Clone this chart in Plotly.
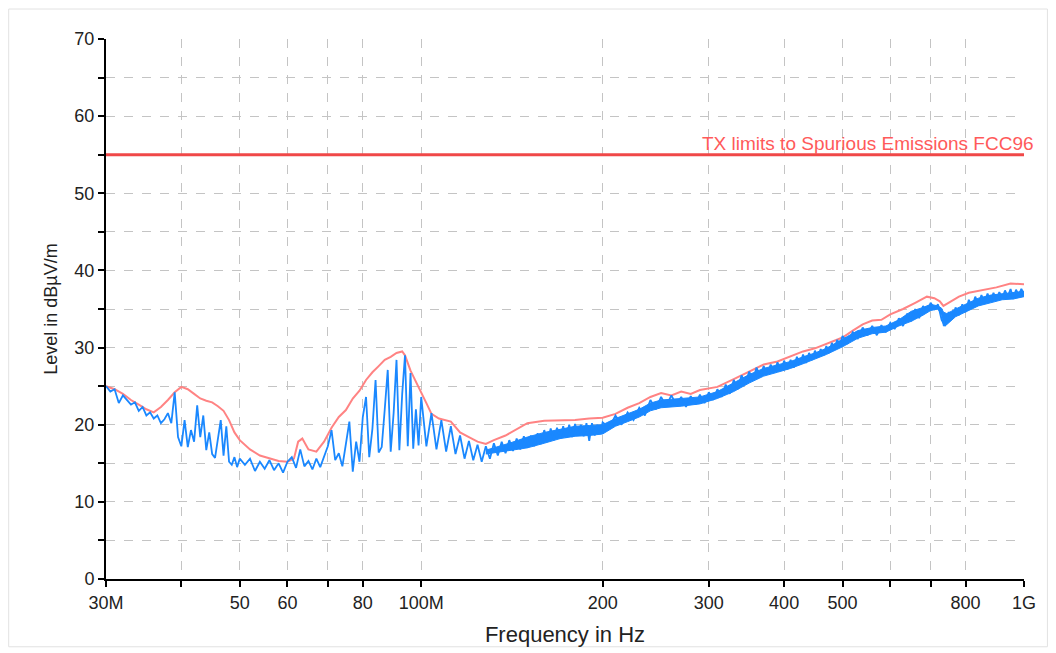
import plotly.graph_objects as go

# limit line (FCC)
limit_mhz = [30, 1000]
limit_db = [55, 55]
limit_label = "TX limits to Spurious Emissions FCC96"

# max-hold trace (pink)
peak_mhz = [30, 31, 32, 33, 34, 35, 36, 37, 38, 39, 40, 41, 42, 43, 44, 45, 46, 47, 48, 49,
            50, 52, 54, 56, 58, 60, 61.5, 62.5, 63.5, 65, 67, 69, 71, 73, 75, 77, 79, 81, 83, 85,
            87, 89, 91, 93, 94, 96, 98, 100, 102, 104, 107, 112, 116, 120, 124, 128, 132, 138,
            145, 150, 160, 170, 180, 190, 200, 210, 220, 230, 240, 250, 260, 270, 280, 290, 310,
            330, 350, 370, 390, 410, 430, 450, 480, 500, 520, 540, 560, 580, 600, 630, 660, 690,
            710, 725, 735, 750, 780, 810, 850, 900, 950, 1000]
peak_db = [25.0, 24.6, 24.0, 23.2, 22.6, 22.0, 21.6, 22.3, 23.2, 24.2, 24.9, 24.6, 24.0, 23.4,
           23.1, 22.9, 22.4, 21.8, 20.6, 19.0, 18.0, 16.8, 16.0, 15.6, 15.3, 15.2, 15.6, 17.8,
           18.2, 16.8, 16.5, 17.8, 19.6, 21.0, 21.9, 23.4, 24.4, 25.8, 26.8, 27.6, 28.4, 28.8,
           29.3, 29.5, 29.0, 27.0, 25.6, 24.3, 22.8, 21.4, 20.8, 20.4, 19.0, 18.4, 17.8, 17.5,
           18.0, 18.6, 19.5, 20.2, 20.5, 20.6, 20.6, 20.8, 20.9, 21.4, 22.2, 22.8, 23.6, 24.1,
           23.8, 24.3, 24.0, 24.5, 24.9, 25.9, 26.9, 27.8, 28.2, 28.9, 29.5, 29.9, 30.8, 31.3,
           32.2, 33.0, 33.5, 33.6, 34.3, 35.0, 35.8, 36.6, 36.4, 36.0, 35.4, 35.8, 36.6, 37.1,
           37.4, 37.8, 38.3, 38.2]

# measured trace (blue), noisy part
meas_mhz = [30, 30.5, 31, 31.5, 32, 32.5, 33, 33.5, 34, 34.5, 35, 35.5, 36, 36.5, 37, 37.5, 38,
            38.5, 39, 39.5, 40, 40.5, 41, 41.5, 42, 42.5, 43, 43.5, 44, 44.5, 45, 45.5, 46, 46.5,
            47, 47.5, 48, 48.5, 49, 49.5, 50,
            51, 52, 53, 54, 55, 56, 57, 58, 59, 60, 61, 62, 63, 64, 65, 66, 67, 68, 69, 70,
            71, 72, 73, 74, 75, 76, 77, 78, 79, 80, 81, 82, 83, 84, 85, 86, 87, 88, 89, 90,
            91, 92, 93, 94, 95, 96, 97, 98, 99, 100,
            102, 104, 106, 108, 110, 112, 114, 116, 118, 120, 122, 124, 126, 128, 130, 132, 134,
            136, 138, 140, 142, 144, 146, 148, 150, 152, 154, 156, 158, 160, 162, 164, 166, 168,
            170, 172, 174, 176, 178, 180, 182, 184, 186, 188, 190, 192, 194, 196, 198, 200,
            205, 210, 215, 220, 225, 230, 235, 240, 245, 250, 255, 260, 265, 270, 275, 280, 285,
            290, 295, 300, 305, 310, 315, 320, 325, 330, 335, 340, 345, 350, 355, 360, 365, 370,
            375, 380, 385, 390, 395, 400, 405, 410, 415, 420, 425, 430, 435, 440, 445, 450, 455,
            460, 465, 470, 475, 480, 485, 490, 495, 500,
            510, 520, 530, 540, 550, 560, 570, 580, 590, 600, 610, 620, 630, 640, 650, 660, 670,
            680, 690, 700, 710, 720, 730, 740, 750, 760, 770, 780, 790, 800, 810, 820, 830, 840,
            850, 860, 870, 880, 890, 900, 910, 920, 930, 940, 950, 960, 970, 980, 990, 1000]
meas_db = [25.0, 24.3, 24.6, 22.8, 23.8, 23.2, 22.6, 22.9, 21.8, 22.3, 21.2, 21.6, 20.8, 21.2,
           20.2, 20.7, 21.5, 20.2, 24.2, 18.4, 17.2, 20.6, 17.1, 19.3, 17.8, 22.5, 18.4, 21.2,
           16.7, 19.0, 16.2, 15.7, 18.5, 20.6, 16.0, 19.8, 15.2, 14.8, 15.8, 14.5, 15.6,
           14.8, 15.6, 14.0, 15.2, 14.3, 15.4, 14.1, 15.0, 13.8, 15.2, 15.8, 14.4, 16.8, 14.6,
           15.3, 14.2, 15.6, 14.5, 15.8, 17.2, 19.3, 15.4, 16.3, 14.6, 17.5, 20.4, 13.9, 17.8,
           15.2, 21.0, 23.6, 15.8, 19.5, 25.8, 16.4, 17.1, 22.0, 27.1, 16.5, 21.5, 28.4, 16.7,
           24.0, 29.0, 17.2, 26.7, 16.9, 22.0, 17.3, 23.6,
           17.2, 21.5, 16.8, 20.6, 16.5, 19.8, 16.2, 18.6, 15.6, 17.9, 15.4, 17.4, 15.2, 17.2,
           15.6, 17.6, 16.0, 17.8, 16.3, 18.0, 16.6, 18.2, 16.8, 18.5, 17.0, 18.6, 17.2, 18.9,
           17.5, 19.3, 17.8, 19.5, 18.0, 19.6, 18.2, 19.8, 18.3, 20.0, 18.4, 20.1, 18.6, 20.0,
           18.5, 20.2, 17.9, 20.2, 18.6, 20.0, 18.8, 20.3,
           19.6, 21.2, 20.0, 21.6, 20.6, 22.2, 21.2, 23.2, 22.0, 23.6, 22.4, 23.8, 22.6, 23.6,
           22.3, 23.7, 22.6, 23.9, 22.8, 24.2, 23.2, 24.6, 23.6, 25.2, 24.0, 25.8, 24.6, 26.4,
           25.3, 26.9, 25.8, 27.4, 26.3, 27.6, 26.5, 27.8, 26.8, 28.1, 27.0, 28.3, 27.2, 28.4,
           27.4, 28.8, 27.8, 29.1, 28.0, 29.3, 28.4, 29.6, 28.7, 29.8, 29.0, 30.2, 29.3, 30.6,
           29.8, 31.0, 30.3, 31.5,
           30.6, 32.0, 31.2, 32.6, 31.6, 32.8, 31.6, 32.9, 32.0, 33.2, 32.4, 33.8, 32.8, 34.4,
           33.4, 35.0, 33.8, 35.4, 34.6, 35.8, 35.0, 35.6, 33.6, 32.8, 34.6, 33.8, 35.2, 34.2,
           35.6, 34.6, 36.2, 35.2, 36.6, 35.6, 36.8, 35.8, 37.0, 36.0, 37.1, 36.2, 37.2, 36.4,
           37.4, 36.6, 37.6, 36.3, 37.5, 36.8, 37.6, 36.9]

# measured trace (blue), dense band above ~130 MHz: lower / upper edge
band_mhz = [128, 140, 150, 160, 170, 180, 190, 200, 210, 220, 230, 240, 250, 270, 290,
            310, 330, 350, 370, 390, 410, 430, 450, 470, 500, 530, 560, 590, 620, 650, 680,
            700, 720, 730, 735, 745, 770, 800, 840, 880, 920, 960, 1000]
band_lo = [16.2, 16.6, 17.0, 17.6, 18.2, 18.5, 18.6, 18.8, 19.8, 20.4, 21.0, 21.8, 22.2,
           22.4, 22.7, 23.4, 24.3, 25.4, 26.3, 26.8, 27.3, 27.9, 28.5, 29.1, 30.1, 31.2, 31.8,
           32.0, 32.8, 33.4, 34.2, 34.8, 35.0, 34.2, 32.8, 33.0, 34.0, 34.6, 35.4, 35.8, 36.2,
           36.3, 36.6]
band_hi = [16.7, 17.6, 18.4, 19.0, 19.4, 19.8, 19.9, 20.0, 20.8, 21.4, 22.0, 22.8, 23.2,
           23.4, 23.6, 24.3, 25.4, 26.5, 27.3, 27.8, 28.2, 28.8, 29.3, 29.9, 31.1, 32.2, 32.6,
           32.8, 33.6, 34.7, 35.2, 35.6, 35.4, 35.1, 34.6, 34.4, 35.0, 35.6, 36.4, 36.8, 37.0,
           37.2, 37.3]

# axes
x_tick_mhz = [30, 40, 50, 60, 70, 80, 100, 200, 300, 400, 500, 600, 700, 800, 1000]
x_tick_text = ["30M", "", "50", "60", "", "80", "100M", "200", "300", "400", "500", "", "", "800", "1G"]
y_tick_vals = [0, 5, 10, 15, 20, 25, 30, 35, 40, 45, 50, 55, 60, 65, 70]
y_tick_text = ["0", "", "10", "", "20", "", "30", "", "40", "", "50", "", "60", "", "70"]

hz = lambda v: [m * 1e6 for m in v]
font = "Liberation Sans, Arial, sans-serif"
blue = "#1A88FF"

fig = go.Figure()
fig.add_trace(go.Scatter(x=hz(limit_mhz), y=limit_db, mode="lines",
                         line=dict(color="#F04848", width=3), hoverinfo="skip"))
fig.add_trace(go.Scatter(x=hz(peak_mhz), y=peak_db, mode="lines",
                         line=dict(color="#FF8383", width=2)))
fig.add_trace(go.Scatter(x=hz(band_mhz), y=band_lo, mode="lines",
                         line=dict(color=blue, width=1)))
fig.add_trace(go.Scatter(x=hz(band_mhz), y=band_hi, mode="lines", fill="tonexty",
                         fillcolor=blue, line=dict(color=blue, width=1)))
fig.add_trace(go.Scatter(x=hz(meas_mhz), y=meas_db, mode="lines",
                         line=dict(color=blue, width=1.8)))

fig.add_annotation(x=1.013, xref="paper", y=55, yref="y", text=limit_label,
                   showarrow=False, xanchor="right", yanchor="bottom", yshift=-1,
                   font=dict(family=font, size=19, color="#FF5A5A"))

# thin frame round the figure
fig.add_shape(type="rect", xref="paper", yref="paper", x0=-0.106, x1=1.0255,
              y0=-0.1255, y1=1.0555, line=dict(color="#e2e2e2", width=1), layer="below")

grid = dict(showgrid=True, gridcolor="#c4c4c4", griddash="dash", gridwidth=1)
fig.update_xaxes(type="log", range=[7.4771, 9.0], tickvals=hz(x_tick_mhz), ticktext=x_tick_text,
                 showline=True, linecolor="black", linewidth=2, ticks="outside", ticklen=6,
                 tickwidth=2, tickcolor="black", zeroline=False, automargin=False,
                 tickfont=dict(family=font, size=18, color="#222"),
                 title=dict(text="Frequency in Hz", standoff=15,
                            font=dict(family=font, size=22, color="#222")), **grid)
fig.update_yaxes(range=[0, 70], tickvals=y_tick_vals, ticktext=y_tick_text,
                 showline=True, linecolor="black", linewidth=2, ticks="outside", ticklen=6,
                 tickwidth=2, tickcolor="black", zeroline=False, automargin=False,
                 tickfont=dict(family=font, size=18, color="#222"),
                 title=dict(text="Level in dBµV/m", standoff=12,
                            font=dict(family=font, size=18, color="#222")), **grid)

fig.update_layout(width=1040, height=640, showlegend=False,
                  paper_bgcolor="white", plot_bgcolor="white",
                  margin=dict(l=98, r=24, t=31, b=69))

fig.write_html("out.html")
